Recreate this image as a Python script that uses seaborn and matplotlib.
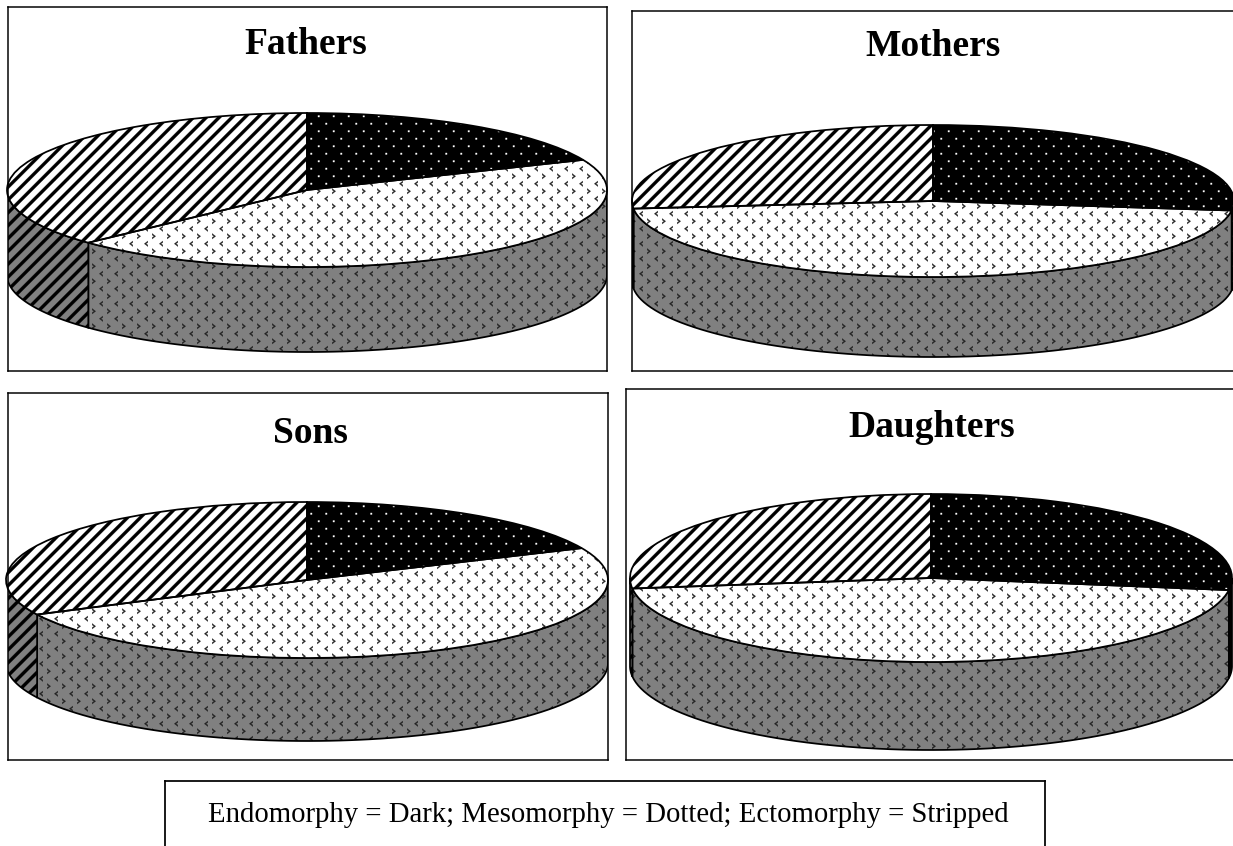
import numpy as np
import matplotlib
matplotlib.use("Agg")
import matplotlib.pyplot as plt
import matplotlib.hatch as mhatch
from matplotlib.path import Path
import seaborn as sns

# shares in percent, clockwise from 12 o'clock
groups = ["Fathers", "Mothers", "Sons", "Daughters"]
endomorphy = [18.6, 27.0, 18.3, 27.3]
mesomorphy = [44.4, 46.4, 49.4, 45.7]
ectomorphy = [37.0, 26.6, 32.3, 27.0]
legend_text = "Endomorphy = Dark; Mesomorphy = Dotted; Ectomorphy = Stripped"

W, H = 1233, 846
DPI = 90  # hatch tile is one inch, so 90 px here

# layout in pixels: box left/top/right/bottom, pie centre x/y, radius x/y, wall depth
boxes = [(8, 7, 607, 371), (632, 11, 1240, 371), (8, 393, 608, 760), (626, 389, 1240, 760)]
pies = [(307, 190, 300, 77, 85), (933, 201, 301, 76, 80), (307, 580, 301, 78, 83), (931, 578, 301, 84, 88)]
# centre x and baseline y of the titles
title_pos = [(305.5, 54), (933.5, 56), (310, 443), (931.5, 437)]

# (face, hatch ink, hatch code) for each slice on the top and on the wall
top_style = [("black", "white", "."), ("white", "#222222", "*"), ("white", "black", "/")]
wall_style = [("black", "white", "."), ("#808080", "#222222", "*"), ("#808080", "black", "/")]


# the built in hatches are too coarse, so use texture tiles like the original
class TextureHatch(mhatch.HatchPatternBase):
    def __init__(self, hatch, density):
        polys = []
        if "/" in hatch:
            w = 4.5 / 90
            for i in range(-7, 8):
                x = i / 7
                polys.append([(x, 0), (x + w, 0), (x + w + 1, 1), (x + 1, 1)])
        if "." in hatch:
            d = 0.8 / 90
            for r in range(12):
                for c in range(6):
                    x, y = (c + 0.25 + 0.5 * (r % 2)) / 6, (r + 0.5) / 12
                    polys.append([(x - d, y - d), (x + d, y - d), (x + d, y + d), (x - d, y + d)])
        if "*" in hatch:
            chev = np.array([(-2, 0), (1.6, 2.8), (1.6, 1.2), (-0.2, 0), (1.6, -1.2), (1.6, -2.8)]) / 90
            for r in range(12):
                for c in range(6):
                    x, y = (c + 0.25 + 0.5 * (r % 2)) / 6, (r + 0.5) / 12
                    g = chev * [1 if r % 2 else -1, 1]
                    polys.append([(x + a, y + b) for a, b in g])
        self.polys = polys
        self.num_vertices = sum(len(p) + 1 for p in polys)

    def set_vertices_and_codes(self, vertices, codes):
        k = 0
        for p in self.polys:
            n = len(p)
            vertices[k:k + n] = p
            vertices[k + n] = p[0]
            codes[k] = Path.MOVETO
            codes[k + 1:k + n] = Path.LINETO
            codes[k + n] = Path.CLOSEPOLY
            k += n + 1


mhatch._hatch_types = [TextureHatch]

sns.set_theme(style="white")
plt.rcParams["font.family"] = ["Liberation Serif", "DejaVu Serif"]
plt.rcParams["hatch.linewidth"] = 0.15


def pixel_axes(fig, left, top, right, bottom):
    return fig.add_axes([left / W, 1 - bottom / H, (right - left) / W, (bottom - top) / H])


def draw_pie(ax, shares, box, pie):
    left, top, right, bottom = box
    cx, cy, rx, ry, depth = pie
    d = depth / ry

    # front wall, from the same shares
    edges = 90 - 3.6 * np.cumsum([0] + list(shares))
    for i, (face, ink, code) in enumerate(wall_style):
        a2, a1 = edges[i], edges[i + 1]
        a1, a2 = max(a1, -180), min(a2, 0)
        if a2 <= a1:
            continue
        t = np.radians(np.linspace(a1, a2, 80))
        xs = np.r_[np.cos(t), np.cos(t)[::-1]]
        ys = np.r_[np.sin(t), np.sin(t)[::-1] - d]
        ax.fill(xs, ys, facecolor=face, edgecolor=ink, hatch=code, linewidth=0)
        ax.fill(xs, ys, facecolor="none", edgecolor="black", linewidth=1.4)

    # top: once for the textures, once for the outlines
    wedges, _ = ax.pie(shares, startangle=90, counterclock=False, radius=1)
    for w, (face, ink, code) in zip(wedges, top_style):
        w.set(facecolor=face, edgecolor=ink, hatch=code, linewidth=0)
    ax.pie(shares, startangle=90, counterclock=False, radius=1,
           wedgeprops={"facecolor": "none", "edgecolor": "black", "linewidth": 1.4})

    ax.set_aspect("auto")
    ax.set_xlim((left - cx) / rx, (right - cx) / rx)
    ax.set_ylim((cy - bottom) / ry, (cy - top) / ry)
    ax.set_frame_on(True)
    for s in ax.spines.values():
        s.set_visible(True)
        s.set_color("black")
        s.set_linewidth(1.2)
    ax.set_xticks([])
    ax.set_yticks([])


fig = plt.figure(figsize=(W / DPI, H / DPI), dpi=DPI, facecolor="white")

for i, name in enumerate(groups):
    ax = pixel_axes(fig, *boxes[i])
    shares = [endomorphy[i], mesomorphy[i], ectomorphy[i]]
    draw_pie(ax, shares, boxes[i], pies[i])
    fig.text(title_pos[i][0] / W, 1 - title_pos[i][1] / H, name, fontsize=30, fontweight="bold",
             color="black", ha="center", va="baseline")

leg = pixel_axes(fig, 165, 781, 1045, 860)
leg.set_xticks([])
leg.set_yticks([])
for s in leg.spines.values():
    s.set_color("black")
    s.set_linewidth(1.4)
fig.text(608 / W, 1 - 815 / H, legend_text, fontsize=23, color="black", ha="center", va="center")

fig.savefig("out.png", dpi=DPI)
